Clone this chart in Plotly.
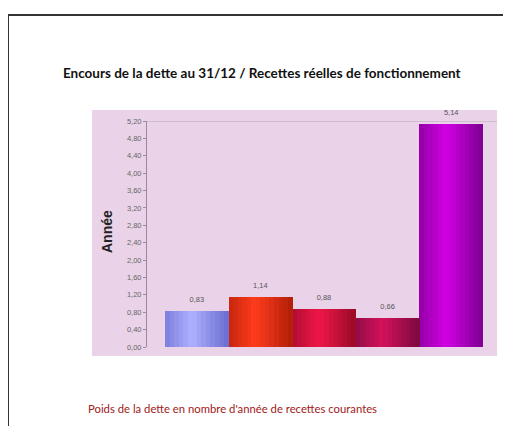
import plotly.graph_objects as go

categories = ["A", "B", "C", "D", "E"]
values = [0.83, 1.14, 0.88, 0.66, 5.14]
edge_colors = ["#6a6cd0", "#b01e08", "#980a26", "#7a0840", "#7c0090"]
center_colors = ["#aeb0ff", "#ff3c1c", "#f0164a", "#d4125a", "#d200e4"]
y_ticks = [0.0, 0.4, 0.8, 1.2, 1.6, 2.0, 2.4, 2.8, 3.2, 3.6, 4.0, 4.4, 4.8, 5.2]

title_text = "Encours de la dette au 31/12 / Recettes réelles de fonctionnement"
y_title = "Année"
footer_text = "Poids de la dette en nombre d'année de recettes courantes"

OFF = 8  # page body margin in the browser
W, H = 511 - OFF, 426 - OFF
L, R, T, B = 147 - OFF, 511 - 497, 121 - OFF, 426 - 347
pw, ph = W - L - R, H - T - B

def px(x):
    return (x - OFF - L) / pw

def py(y):
    return (H - B - (y - OFF)) / ph

def hex2rgb(h):
    h = h.lstrip("#")
    return [int(h[i:i + 2], 16) for i in (0, 2, 4)]

def mix(a, b, t):
    ca, cb = hex2rgb(a), hex2rgb(b)
    return "rgb(%d,%d,%d)" % tuple(round(x + (y - x) * t) for x, y in zip(ca, cb))

xs = list(range(len(categories)))
K = 14
fig = go.Figure()
for j in range(K):
    t = (j + 0.5) / K
    light = max(0.0, 1 - abs(t - 0.42) / 0.58)
    fig.add_trace(go.Bar(
        x=xs, y=values,
        width=1.0 / K + 0.005, offset=-0.5 + j / K,
        marker=dict(color=[mix(e, c, light) for e, c in zip(edge_colors, center_colors)],
                    line=dict(width=0)),
        hoverinfo="skip",
    ))

fig.add_trace(go.Scatter(
    x=xs, y=values, mode="markers+text",
    marker=dict(size=10, opacity=0),
    text=[f"{v:.2f}".replace(".", ",") for v in values],
    textposition="top center",
    textfont=dict(size=7.5, color="#555555", family="Liberation Sans"),
    cliponaxis=False,
))

shapes = [
    dict(type="rect", xref="paper", yref="paper", x0=px(92), x1=px(497), y0=py(356), y1=py(110),
         fillcolor="#ead3e8", line=dict(width=0), layer="below"),
    dict(type="line", xref="paper", yref="y", x0=0, x1=1, y0=5.2, y1=5.2,
         line=dict(color="#b8a8b8", width=1), layer="below"),
    dict(type="line", xref="paper", yref="paper", x0=px(8), x1=px(515), y0=py(15), y1=py(15),
         line=dict(color="#333333", width=2)),
    dict(type="line", xref="paper", yref="paper", x0=px(8), x1=px(8), y0=py(15), y1=py(430),
         line=dict(color="#333333", width=2)),
]

fig.update_layout(
    width=W, height=H,
    margin=dict(l=L, r=R, t=T, b=B),
    paper_bgcolor="white",
    plot_bgcolor="#ead3e8",
    separators=", ",
    showlegend=False,
    barmode="overlay",
    bargap=0,
    shapes=shapes,
    annotations=[
        dict(text=f"<b>{title_text}</b>", xref="paper", yref="paper", x=px(262), y=py(73),
             showarrow=False, xanchor="center", yanchor="middle",
             font=dict(family="Lato", size=13.5, color="#111111")),
        dict(text=footer_text, xref="paper", yref="paper", x=px(232), y=py(408),
             showarrow=False, xanchor="center", yanchor="middle",
             font=dict(family="Lato", size=11.3, color="#a02020")),
        dict(text=f"<b>{y_title}</b>", xref="paper", yref="paper", x=px(107), y=py(232),
             showarrow=False, xanchor="center", yanchor="middle", textangle=-90,
             font=dict(family="Liberation Sans", size=14, color="#222222")),
    ],
    font=dict(family="Liberation Sans"),
)

fig.update_xaxes(range=[-0.783, 4.72], showticklabels=False, showgrid=False,
                 zeroline=False, showline=False, ticks="")
fig.update_yaxes(range=[0, 5.2], tickvals=y_ticks, tickformat=".2f",
                 tickfont=dict(size=7.5, color="#666666"),
                 showgrid=False, zeroline=False, showline=True, linecolor="#9a8c9a", linewidth=1,
                 ticks="outside", ticklen=3, tickcolor="#9a8c9a")

fig.write_html("out.html")
